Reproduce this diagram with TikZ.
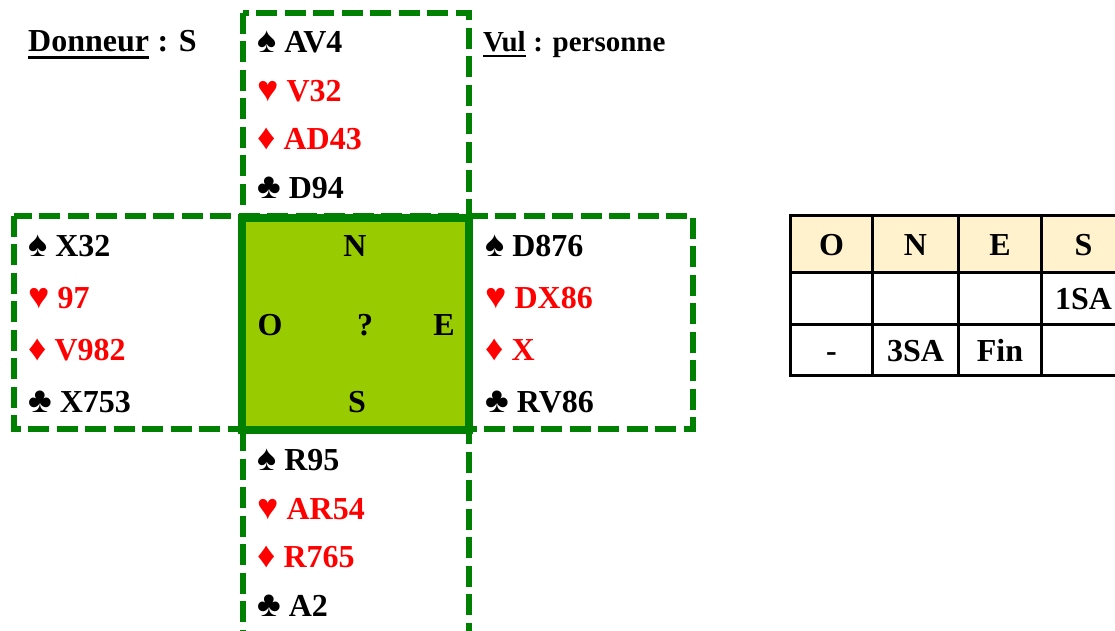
\documentclass[tikz,border=0pt]{standalone}
\usepackage{fontspec}
\setmainfont{Liberation Serif}
\usetikzlibrary{positioning}
\definecolor{deal-green}{HTML}{008000}
\definecolor{deal-lime}{HTML}{99CC00}
\definecolor{deal-cream}{HTML}{FFF2CC}
\definecolor{deal-red}{HTML}{FF0000}
\newcommand{\suitsym}[1]{{\fontsize{36}{36}\selectfont #1}}

\begin{document}
\begin{tikzpicture}[x=1pt, y=-1pt, font=\fontsize{32}{38}\selectfont\bfseries,
  text only/.style={inner sep=0pt, anchor=base west},
  hand box/.style={draw=deal-green, line width=6pt, dash pattern=on 21pt off 7.5pt},
  bid cell/.style={draw, line width=3pt, inner sep=0pt, anchor=north west,
    text height=22pt, text depth=0pt}]
\useasboundingbox (0,0) rectangle (1115,631);
% dashed frames round the hands
\draw[hand box] (242.5,13) rectangle (469,217);
\draw[hand box] (13.5,215.5) rectangle (692.5,429);
\draw[hand box] (242.5,430) rectangle (469,680);
\node[draw=deal-green, fill=deal-lime, line width=8pt, inner sep=0pt,
  minimum width=227pt, minimum height=212.5pt]
  (table)
  at (355.5, 323.75)
  {};
\foreach \seat/\sx/\sy in {N/355/256.5, O/270/335, ?/365/335, E/444/335, S/357/412.5} {
  \node[inner sep=0pt, anchor=base]
    (seat-\seat)
    at (\sx, \sy)
    {\seat};
}
\node[text only]
  (dealer-label)
  at (28, 52)
  {Donneur};
\node[text only]
  (dealer)
  at (dealer-label.base east)
  {\ : S};
\draw[line width=3pt] ([yshift=-5.5pt]dealer-label.base west) -- ([yshift=-5.5pt]dealer-label.base east);
\node[text only, font=\fontsize{29}{34}\selectfont\bfseries]
  (vul-label)
  at (483, 51.7)
  {Vul};
\node[text only, font=\fontsize{29}{34}\selectfont\bfseries]
  (vul)
  at (vul-label.base east)
  {\ : personne};
\draw[line width=2.5pt] ([yshift=-4.5pt]vul-label.base west) -- ([yshift=-4.5pt]vul-label.base east);
% the four hands
\foreach \hand/\hx/\hy/\hstep/\cardS/\cardH/\cardD/\cardC in {
    north/257/52.5/48.7/AV4/V32/AD43/D94,
    west/28/256.5/52/X32/97/V982/X753,
    east/485/256.5/52/D876/DX86/X/RV86,
    south/257/470.5/48.7/R95/AR54/R765/A2} {
  \node[text only]
    (\hand-spades)
    at (\hx, \hy)
    {\suitsym{♠} \cardS};
  \node[text only, text=deal-red]
    (\hand-hearts)
    at (\hx, \hy+\hstep)
    {\suitsym{♥} \cardH};
  \node[text only, text=deal-red]
    (\hand-diamonds)
    at (\hx, \hy+2*\hstep)
    {\suitsym{♦} \cardD};
  \node[text only]
    (\hand-clubs)
    at (\hx, \hy+3*\hstep)
    {\suitsym{♣} \cardC};
}
% bidding table
\foreach \col/\cx/\cw/\seat/\first/\second in {
    o/789/82/O/{}/-,
    n/871/86/N/{}/3SA,
    e/957/83/E/{}/Fin,
    s/1040/84/S/1SA/{}} {
  \node[bid cell, fill=deal-cream, minimum width=\cw pt, minimum height=57pt]
    (bid-\col-0)
    at (\cx, 214)
    {\seat};
  \node[bid cell, minimum width=\cw pt, minimum height=52pt]
    (bid-\col-1)
    at (\cx, 271)
    {\first};
  \node[bid cell, minimum width=\cw pt, minimum height=51pt]
    (bid-\col-2)
    at (\cx, 323)
    {\second};
}
\end{tikzpicture}
\end{document}
